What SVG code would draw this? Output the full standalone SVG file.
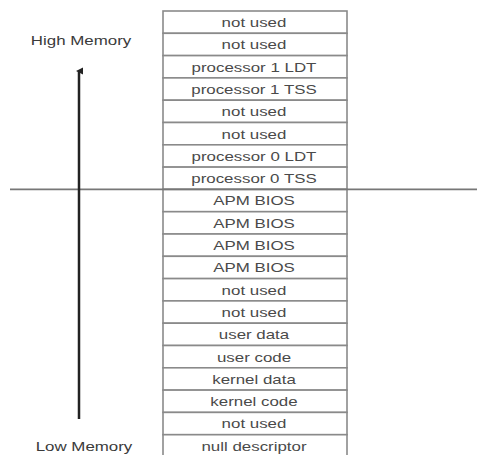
<svg xmlns="http://www.w3.org/2000/svg" width="477" height="455" viewBox="0 0 477 455">
<style>
.cell{fill:#fff;stroke:#8a8a8a;stroke-width:1.6}
.t{font-family:"Liberation Sans",Arial,sans-serif;font-size:13px;fill:#4a4a4a;text-anchor:middle}
.lbl{font-family:"Liberation Sans",Arial,sans-serif;font-size:13px;fill:#3a3a3a;text-anchor:middle}
</style>
<defs>
<marker id="ah" markerWidth="8" markerHeight="8" refX="4" refY="3" orient="auto" markerUnits="userSpaceOnUse">
<path d="M0.5,7 L4,0 L7.5,7 Z" fill="#222"/>
</marker>
</defs>
<rect width="477" height="455" fill="#fff"/>
<g id="label-high"><text class="lbl" transform="translate(81,45) scale(1.3,1)">High Memory</text></g>
<g id="label-low"><text class="lbl" transform="translate(84,451) scale(1.3,1)">Low Memory</text></g>
<g id="r1"><rect class="cell" x="163" y="11" width="184" height="22.3"/><text class="t" transform="translate(254,27) scale(1.3,1)">not used</text></g>
<g id="r2"><rect class="cell" x="163" y="33.3" width="184" height="22.3"/><text class="t" transform="translate(254,49.3) scale(1.3,1)">not used</text></g>
<g id="r3"><rect class="cell" x="163" y="55.6" width="184" height="22.3"/><text class="t" transform="translate(254,71.6) scale(1.3,1)">processor 1 LDT</text></g>
<g id="r4"><rect class="cell" x="163" y="77.9" width="184" height="22.3"/><text class="t" transform="translate(254,93.9) scale(1.3,1)">processor 1 TSS</text></g>
<g id="r5"><rect class="cell" x="163" y="100.2" width="184" height="22.3"/><text class="t" transform="translate(254,116.2) scale(1.3,1)">not used</text></g>
<g id="r6"><rect class="cell" x="163" y="122.5" width="184" height="22.3"/><text class="t" transform="translate(254,138.5) scale(1.3,1)">not used</text></g>
<g id="r7"><rect class="cell" x="163" y="144.8" width="184" height="22.3"/><text class="t" transform="translate(254,160.8) scale(1.3,1)">processor 0 LDT</text></g>
<g id="r8"><rect class="cell" x="163" y="167.1" width="184" height="22.3"/><text class="t" transform="translate(254,183.1) scale(1.3,1)">processor 0 TSS</text></g>
<g id="r9"><rect class="cell" x="163" y="189.4" width="184" height="22.3"/><text class="t" transform="translate(254,205.4) scale(1.3,1)">APM BIOS</text></g>
<g id="r10"><rect class="cell" x="163" y="211.7" width="184" height="22.3"/><text class="t" transform="translate(254,227.7) scale(1.3,1)">APM BIOS</text></g>
<g id="r11"><rect class="cell" x="163" y="234" width="184" height="22.3"/><text class="t" transform="translate(254,250) scale(1.3,1)">APM BIOS</text></g>
<g id="r12"><rect class="cell" x="163" y="256.3" width="184" height="22.3"/><text class="t" transform="translate(254,272.3) scale(1.3,1)">APM BIOS</text></g>
<g id="r13"><rect class="cell" x="163" y="278.6" width="184" height="22.3"/><text class="t" transform="translate(254,294.6) scale(1.3,1)">not used</text></g>
<g id="r14"><rect class="cell" x="163" y="300.9" width="184" height="22.3"/><text class="t" transform="translate(254,316.9) scale(1.3,1)">not used</text></g>
<g id="r15"><rect class="cell" x="163" y="323.2" width="184" height="22.3"/><text class="t" transform="translate(254,339.2) scale(1.3,1)">user data</text></g>
<g id="r16"><rect class="cell" x="163" y="345.5" width="184" height="22.3"/><text class="t" transform="translate(254,361.5) scale(1.3,1)">user code</text></g>
<g id="r17"><rect class="cell" x="163" y="367.8" width="184" height="22.3"/><text class="t" transform="translate(254,383.8) scale(1.3,1)">kernel data</text></g>
<g id="r18"><rect class="cell" x="163" y="390.1" width="184" height="22.3"/><text class="t" transform="translate(254,406.1) scale(1.3,1)">kernel code</text></g>
<g id="r19"><rect class="cell" x="163" y="412.4" width="184" height="22.3"/><text class="t" transform="translate(254,428.4) scale(1.3,1)">not used</text></g>
<g id="r20"><rect class="cell" x="163" y="434.7" width="184" height="22.3"/><text class="t" transform="translate(254,450.7) scale(1.3,1)">null descriptor</text></g>
<g id="connectors">
<line x1="10" y1="189.4" x2="477" y2="189.4" stroke="#777" stroke-width="1.6"/>
<line x1="79" y1="419" x2="79" y2="71" stroke="#222" stroke-width="2.5" marker-end="url(#ah)"/>
</g>
</svg>
